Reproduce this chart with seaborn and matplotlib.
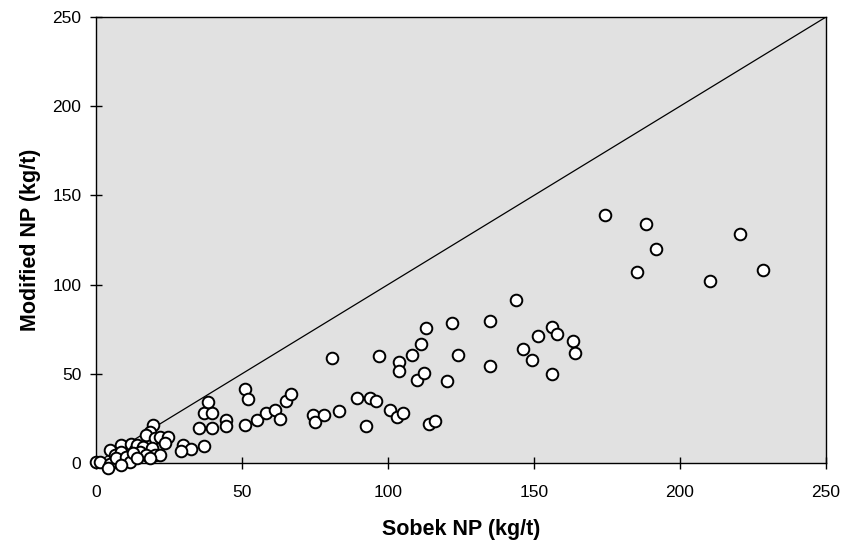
import matplotlib
matplotlib.use("Agg")
import matplotlib.pyplot as plt
import seaborn as sns
import pandas as pd

sobek_np = [
    0.0, 1.5, 4.7, 6.4, 4.7, 8.7, 8.7, 6.9, 10.4, 12.1, 13.2, 11.5, 4.1, 8.6,
    19.6, 18.5, 17.3, 20.2, 21.9, 24.8, 23.6, 13.9, 16.2, 19.1, 15.1, 12.8, 17.3, 20.2, 21.9, 13.9, 18.5,
    37.0, 39.9, 38.2, 35.3, 39.9, 44.4, 44.4, 36.9, 29.9, 32.5, 29.1,
    50.9, 52.2, 51.0, 55.2, 58.2, 61.3, 63.0, 65.0, 66.8, 74.2, 75.1, 78.2, 80.7, 83.1,
    89.3, 92.4, 94.0, 96.0, 97.0, 100.8, 103.2, 105.0, 103.8, 103.8, 108.1, 109.8, 111.2,
    112.3, 113.0, 114.1, 116.0, 120.2, 122.0, 123.9, 134.8, 134.8, 143.8, 146.3, 149.4,
    151.3, 156.1, 157.9, 156.1, 163.4, 164.0,
    174.3, 188.3, 191.9, 185.3, 220.4, 228.3, 210.2,
]
modified_np = [
    0.3, 0.3, 7.3, 4.5, -0.5, 10.1, 6.3, 2.6, 3.6, 10.7, 7.3, 0.7, -3.0, -1.1,
    21.3, 17.5, 15.7, 13.8, 14.7, 14.7, 11.0, 10.1, 9.1, 8.2, 6.3, 5.4, 4.5, 4.5, 4.5, 2.6, 2.6,
    27.8, 27.8, 34.0, 19.8, 19.8, 24.1, 20.7, 9.7, 10.3, 7.7, 6.9,
    41.7, 35.7, 21.5, 23.9, 27.8, 29.7, 24.8, 34.8, 38.9, 26.7, 23.0, 26.7, 58.7, 29.0,
    36.6, 20.7, 36.6, 34.8, 59.8, 29.7, 25.8, 27.8, 56.6, 51.4, 60.7, 46.5, 66.5,
    50.6, 75.5, 21.9, 23.7, 45.8, 78.5, 60.5, 79.6, 54.5, 91.4, 63.7, 57.7,
    71.4, 76.4, 72.5, 49.7, 68.6, 61.7,
    139.0, 134.1, 120.1, 107.2, 128.2, 108.2, 102.2,
]
x_ticks = [0, 50, 100, 150, 200, 250]
y_ticks = [0, 50, 100, 150, 200, 250]

df = pd.DataFrame({"Sobek NP (kg/t)": sobek_np, "Modified NP (kg/t)": modified_np})

sns.set_style("ticks")
plt.rcParams["font.family"] = ["Liberation Sans", "DejaVu Sans"]

fig = plt.figure(figsize=(8.47, 5.51), dpi=100)
ax = fig.add_axes([0.1133, 0.1597, 0.8619, 0.8094])
ax.set_facecolor("#e1e1e1")

ax.plot([0, 250], [0, 250], color="black", linewidth=0.9, zorder=2)
sns.scatterplot(data=df, x="Sobek NP (kg/t)", y="Modified NP (kg/t)", ax=ax,
                marker="o", s=70, facecolor="white", edgecolor="black",
                linewidth=1.4, zorder=3, clip_on=False)

ax.set_xlim(0, 250)
ax.set_ylim(0, 250)
ax.set_xticks(x_ticks)
ax.set_yticks(y_ticks)
ax.tick_params(axis="both", direction="inout", length=9, width=1, labelsize=12.5,
               colors="black")
ax.tick_params(axis="x", pad=11)
ax.tick_params(axis="y", pad=6)
for s in ax.spines.values():
    s.set_visible(True)
    s.set_color("black")
    s.set_linewidth(1.0)
ax.set_xlabel("Sobek NP (kg/t)", fontsize=15.5, fontweight="bold", labelpad=14,
              color="black")
ax.set_ylabel("Modified NP (kg/t)", fontsize=15.5, fontweight="bold", labelpad=8,
              color="black")

fig.savefig("out.png", dpi=100, facecolor="white")
